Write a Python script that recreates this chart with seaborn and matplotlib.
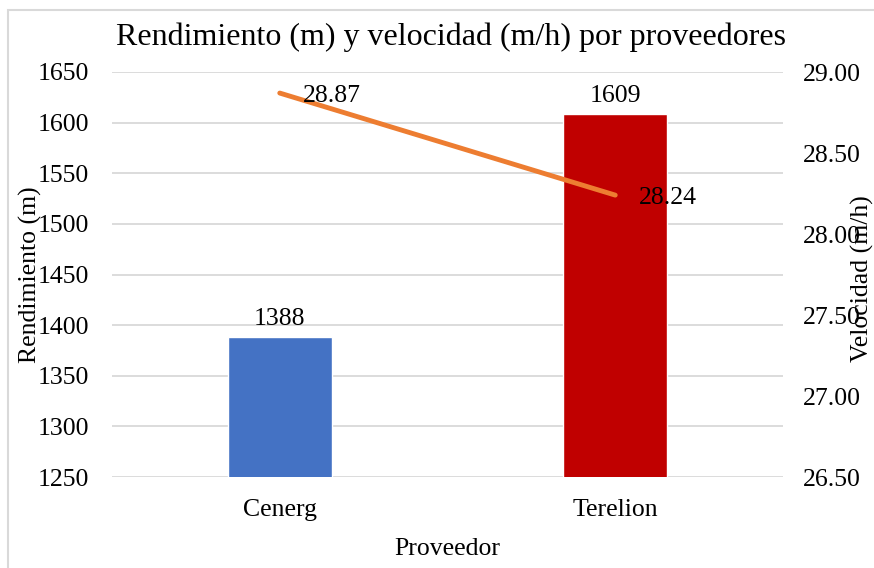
import matplotlib
matplotlib.use("Agg")
import matplotlib.pyplot as plt
import seaborn as sns
import pandas as pd
from matplotlib.patches import Rectangle

proveedores = ["Cenerg", "Terelion"]
rendimiento = [1388, 1609]
velocidad = [28.87, 28.24]
colores_barras = ["#4472C4", "#C00000"]
left_ticks = [1250, 1300, 1350, 1400, 1450, 1500, 1550, 1600, 1650]
right_ticks = [26.5, 27.0, 27.5, 28.0, 28.5, 29.0]

sns.set_theme(style="white")
plt.rcParams["font.family"] = ["Liberation Serif", "DejaVu Serif"]

df = pd.DataFrame({"Proveedor": proveedores, "Rendimiento": rendimiento, "Velocidad": velocidad})

fig = plt.figure(figsize=(8.74, 5.68), dpi=100)
ax = fig.add_axes([112/874, 1-477/568, (783-112)/874, (477-72)/568])

sns.barplot(data=df, x="Proveedor", y="Rendimiento", hue="Proveedor",
            palette=colores_barras, saturation=1, width=0.31, legend=False, ax=ax, zorder=2)
ax.set_ylim(1250, 1650)
ax.set_yticks(left_ticks)
ax.set_xlim(-0.5, 1.5)
ax.grid(axis="y", color="#D9D9D9", linewidth=1.3, zorder=0)
ax.set_axisbelow(True)
for s in ax.spines.values():
    s.set_visible(False)

fs = 18.5
ax.tick_params(axis="both", length=0, labelsize=fs, colors="black")
ax.tick_params(axis="x", pad=16)
ax.tick_params(axis="y", pad=16.5)
ax.set_xlabel("Proveedor", fontsize=fs, color="black")
ax.xaxis.set_label_coords(0.5, -0.15)
ax.set_ylabel("Rendimiento (m)", fontsize=fs, color="black")
ax.yaxis.set_label_coords(-0.104, 0.5)

for c in ax.containers:
    ax.bar_label(c, fmt="%d", padding=5, fontsize=fs, color="black")

ax2 = ax.twinx()
sns.lineplot(data=df, x="Proveedor", y="Velocidad", ax=ax2, color="#ED7D31",
             linewidth=3.5, sort=False, solid_capstyle="round")
ax2.set_ylim(26.5, 29.0)
ax2.set_yticks(right_ticks)
ax2.set_yticklabels([f"{v:.2f}" for v in right_ticks])
for s in ax2.spines.values():
    s.set_visible(False)
ax2.tick_params(axis="y", length=0, labelsize=fs, colors="black", pad=14.5)
ax2.set_ylabel("Velocidad (m/h)", fontsize=fs, color="black")
ax2.yaxis.set_label_coords(1.101, 0.49)
ax2.set_xlabel("")
ax.set_xlabel("Proveedor", fontsize=fs, color="black")

for i, v in enumerate(velocidad):
    ax2.annotate(f"{v:.2f}", (i, v), xytext=(17, -2), textcoords="offset points",
                 ha="left", va="center", fontsize=fs, color="black")

fig.text(451/874, 1-37/568, "Rendimiento (m) y velocidad (m/h) por proveedores",
         ha="center", va="center", fontsize=23, color="black")

fig.patches.append(Rectangle((8/874, -0.1), 1.2, 1.1 - 10/568, transform=fig.transFigure,
                             fill=False, edgecolor="#D9D9D9", linewidth=1.5))

fig.savefig("out.png", dpi=100)
